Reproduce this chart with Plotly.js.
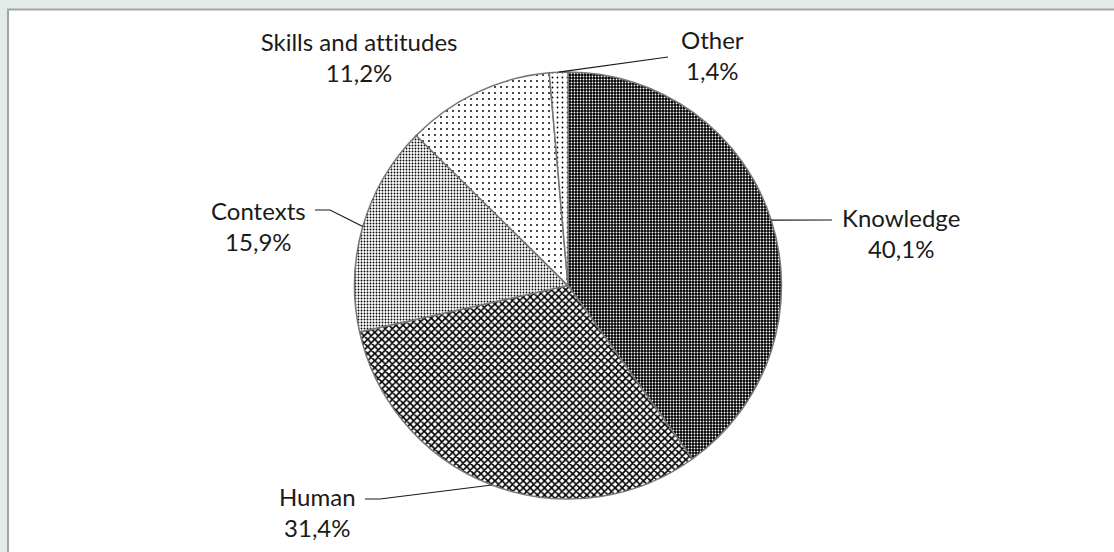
<!DOCTYPE html>
<html>
<head>
<meta charset="utf-8">
<script src="https://cdn.plot.ly/plotly-3.0.1.min.js"></script>
<style>
  html, body { margin: 0; padding: 0; overflow: hidden; background: #e3eaea; }
  #chart { width: 1114px; height: 552px; }
  #chart text { font-variant-ligatures: none; font-feature-settings: "liga" 0; }
</style>
</head>
<body>
<div id="chart"></div>
<script>
// ---- data ----
const categories = ["Knowledge", "Human", "Contexts", "Skills and attitudes", "Other"];
const shares = [40.1, 31.4, 15.9, 11.2, 1.4];
const shareLabels = ["40,1%", "31,4%", "15,9%", "11,2%", "1,4%"];

// ---- style / layout ----
const W = 1114, H = 552;
const pieCenter = { x: 568, y: 285.5 };
const pieR = 213.5;
const px = v => v / W;
const py = v => 1 - v / H;

const patternShape = [".", "x", ".", ".", "."];
const patternFg = ["#ffffff", "#000000", "#000000", "#000000", "#000000"];
const patternBg = ["#000000", "#ffffff", "#ffffff", "#ffffff", "#ffffff"];
const patternSize = [3, 5, 3, 6, 5];
const patternSolidity = [0.3, 0.55, 0.3, 0.08, 0.1];

// label box centres and leader-line bends (pixels)
const labelPos = [
  { x: 901, y: 233, bend: [[832, 220]] },
  { x: 317, y: 512, bend: [[380, 499], [365, 499]] },
  { x: 258, y: 226, bend: [[330, 210], [315, 210]] },
  { x: 359, y: 57, bend: null },
  { x: 712, y: 55, bend: [[668, 57]] }
];

const total = shares.reduce((a, b) => a + b, 0);
const shapes = [{
  type: "rect", xref: "paper", yref: "paper", layer: "below",
  x0: px(8), x1: 1.02, y0: -0.02, y1: py(9.5),
  fillcolor: "#ffffff", line: { color: "#a3a3a3", width: 2 }
}];
const annotations = [];
let cum = 0;
shares.forEach((v, i) => {
  const mid = (cum + v / 2) / total * 2 * Math.PI;
  cum += v;
  const ex = pieCenter.x + pieR * Math.sin(mid);
  const ey = pieCenter.y - pieR * Math.cos(mid);
  const lp = labelPos[i];
  if (lp.bend) {
    let d = "M" + px(ex) + "," + py(ey);
    lp.bend.forEach(p => { d += " L" + px(p[0]) + "," + py(p[1]); });
    shapes.push({ type: "path", xref: "paper", yref: "paper", path: d,
      line: { color: "#1a1a1a", width: 1.2 } });
  }
  annotations.push({
    xref: "paper", yref: "paper", x: px(lp.x), y: py(lp.y),
    xanchor: "center", yanchor: "middle", align: "center", showarrow: false,
    text: categories[i] + "<br>" + shareLabels[i],
    font: { family: "Lato, 'Open Sans', sans-serif", size: 24, color: "#1a1a1a" }
  });
});

const trace = {
  type: "pie",
  labels: categories,
  values: shares,
  sort: false,
  direction: "clockwise",
  rotation: 0,
  textinfo: "none",
  hoverinfo: "none",
  showlegend: false,
  domain: { x: [px(pieCenter.x - pieR), px(pieCenter.x + pieR)],
            y: [py(pieCenter.y + pieR), py(pieCenter.y - pieR)] },
  marker: {
    colors: patternBg,
    line: { color: "#767676", width: 1.5 },
    pattern: {
      shape: patternShape,
      fgcolor: patternFg,
      bgcolor: patternBg,
      size: patternSize,
      solidity: patternSolidity,
      fillmode: "replace"
    }
  }
};

const layout = {
  width: W, height: H,
  margin: { l: 0, r: 0, t: 0, b: 0 },
  paper_bgcolor: "#e3eaea",
  showlegend: false,
  shapes: shapes,
  annotations: annotations
};

Plotly.newPlot("chart", [trace], layout, { displayModeBar: false, staticPlot: true });
</script>
</body>
</html>
